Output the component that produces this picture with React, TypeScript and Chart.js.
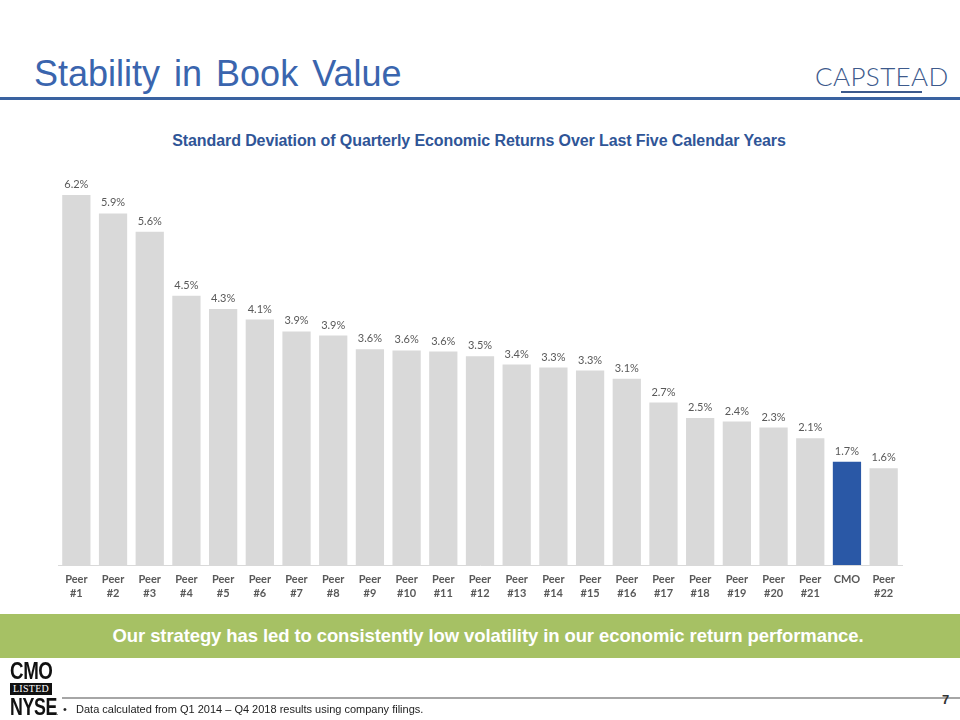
import React, { useEffect, useRef } from "react";
import { Chart, registerables } from "chart.js";

Chart.register(...registerables);

const categories: string[][] = [
  ["Peer", "#1"], ["Peer", "#2"], ["Peer", "#3"], ["Peer", "#4"], ["Peer", "#5"],
  ["Peer", "#6"], ["Peer", "#7"], ["Peer", "#8"], ["Peer", "#9"], ["Peer", "#10"],
  ["Peer", "#11"], ["Peer", "#12"], ["Peer", "#13"], ["Peer", "#14"], ["Peer", "#15"],
  ["Peer", "#16"], ["Peer", "#17"], ["Peer", "#18"], ["Peer", "#19"], ["Peer", "#20"],
  ["Peer", "#21"], ["CMO"], ["Peer", "#22"],
];

const stdDevValues: number[] = [
  6.24, 5.93, 5.62, 4.54, 4.32, 4.14, 3.94, 3.87, 3.64, 3.62, 3.6, 3.52,
  3.38, 3.33, 3.28, 3.14, 2.74, 2.48, 2.42, 2.32, 2.14, 1.74, 1.63,
];

const highlightCategory = "CMO";

const GRAY = "#d9d9d9";
const BLUE = "#2a58a6";

const valueLabelPlugin = {
  id: "valueLabels",
  afterDatasetsDraw(chart: any) {
    const ctx = chart.ctx;
    const meta = chart.getDatasetMeta(0);
    const data = chart.data.datasets[0].data as number[];
    ctx.save();
    ctx.font = "11px Lato, 'Open Sans', sans-serif";
    ctx.fillStyle = "#595959";
    ctx.textAlign = "center";
    ctx.textBaseline = "bottom";
    meta.data.forEach((bar: any, i: number) => {
      ctx.fillText(data[i].toFixed(1) + "%", bar.x, bar.y - 5);
    });
    ctx.restore();
  },
};

function BarChart() {
  const ref = useRef<HTMLCanvasElement | null>(null);
  useEffect(() => {
    if (!ref.current) return;
    const colors = categories.map((c) => (c[0] === highlightCategory ? BLUE : GRAY));
    const chart = new Chart(ref.current, {
      type: "bar",
      data: {
        labels: categories,
        datasets: [
          {
            data: stdDevValues,
            backgroundColor: colors,
            borderWidth: 0,
            categoryPercentage: 1,
            barPercentage: 0.77,
          },
        ],
      },
      options: {
        animation: false,
        responsive: false,
        maintainAspectRatio: false,
        events: [],
        layout: { padding: { left: 58, right: 58, top: 10, bottom: 0 } },
        plugins: { legend: { display: false }, tooltip: { enabled: false }, title: { display: false } },
        scales: {
          x: {
            grid: { display: false },
            border: { display: true, color: "#d9d9d9", width: 1 },
            ticks: {
              color: "#595959",
              font: { family: "Lato, 'Open Sans', sans-serif", size: 11, weight: "bold", lineHeight: 1.25 },
              maxRotation: 0,
              autoSkip: false,
              padding: 0,
            },
            afterFit: (scale: any) => {
              scale.height = 50;
            },
          },
          y: { display: false, min: 0, max: 7 },
        },
      },
      plugins: [valueLabelPlugin],
    });
    return () => chart.destroy();
  }, []);
  return <canvas ref={ref} width={960} height={475} style={{ position: "absolute", left: 0, top: 140, width: 960, height: 475 }} />;
}

export default function App() {
  return (
    <div style={{ position: "absolute", left: 0, top: 0, width: 960, height: 720, background: "#fff", overflow: "hidden", fontFamily: "'Liberation Sans', Arial, sans-serif" }}>
      <div style={{ position: "absolute", left: 34, top: 52, fontSize: 36, color: "#3a65ae", whiteSpace: "nowrap", lineHeight: "44px", wordSpacing: 4 }}>
        Stability in Book Value
      </div>
      <div style={{ position: "absolute", left: 0, top: 97, width: 960, height: 3, background: "#3a62a0" }} />
      <div style={{ position: "absolute", left: 815, top: 59, fontSize: 26, fontWeight: 300, letterSpacing: 0.4, color: "#3d5a8c", fontFamily: "Lato, 'Open Sans', sans-serif", whiteSpace: "nowrap", lineHeight: "34px" }}>
        CAPSTEAD
      </div>
      <div style={{ position: "absolute", left: 841, top: 91, width: 81, height: 2, background: "#3d5a8c" }} />

      <div style={{ position: "absolute", left: 0, width: 958, top: 132, textAlign: "center", fontSize: 16, fontWeight: "bold", color: "#2f5597", whiteSpace: "nowrap", lineHeight: "18px", letterSpacing: -0.1 }}>
        Standard Deviation of Quarterly Economic Returns Over Last Five Calendar Years
      </div>

      <BarChart />

      <div style={{ position: "absolute", left: 0, top: 614, width: 960, height: 44, background: "#a6c164" }} />
      <div style={{ position: "absolute", left: 0, top: 614, width: 976, height: 44, lineHeight: "44px", textAlign: "center", color: "#ffffff", fontWeight: "bold", fontSize: 18.5, whiteSpace: "nowrap", letterSpacing: -0.1 }}>
        Our strategy has led to consistently low volatility in our economic return performance.
      </div>

      <div style={{ position: "absolute", left: 10, top: 658, fontSize: 24, fontWeight: "bold", color: "#111", lineHeight: "26px", transform: "scaleX(0.78)", transformOrigin: "left top", letterSpacing: -0.5 }}>
        CMO
      </div>
      <div style={{ position: "absolute", left: 10, top: 683, width: 42, height: 12, background: "#111", color: "#fff", fontSize: 10, lineHeight: "12px", textAlign: "center", fontFamily: "'Liberation Serif', serif", letterSpacing: 0.3 }}>
        LISTED
      </div>
      <div style={{ position: "absolute", left: 10, top: 694, fontSize: 24, fontWeight: "bold", color: "#111", lineHeight: "26px", transform: "scaleX(0.74)", transformOrigin: "left top", letterSpacing: -0.5 }}>
        NYSE<span style={{ fontSize: 6 }}>.</span>
      </div>

      <div style={{ position: "absolute", left: 62, top: 697, width: 898, height: 2, background: "#a6a6a6" }} />
      <div style={{ position: "absolute", left: 63, top: 701, fontSize: 11, color: "#222", whiteSpace: "nowrap", lineHeight: "16px" }}>
        •&nbsp;&nbsp;&nbsp;Data calculated from Q1 2014 – Q4 2018 results using company filings.
      </div>
      <div style={{ position: "absolute", left: 942, top: 692, fontSize: 13, fontWeight: "bold", color: "#333", lineHeight: "16px" }}>
        7
      </div>
    </div>
  );
}
